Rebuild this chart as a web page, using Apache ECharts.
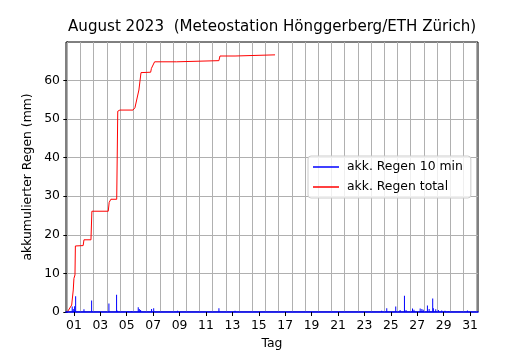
<!DOCTYPE html>
<html><head><meta charset="utf-8">
<script src="https://cdn.jsdelivr.net/npm/echarts@6/dist/echarts.min.js"></script>
<style>html,body{margin:0;padding:0;background:#fff}#c{width:530px;height:350px}</style>
</head><body><div id="c"></div><script>
// x unit: days since 1 Aug 2023 00:00
const xTickDays = [1,3,5,7,9,11,13,15,17,19,21,23,25,27,29,31];
const xTickLabels = ['01','03','05','07','09','11','13','15','17','19','21','23','25','27','29','31'];
const yTicks = [0,10,20,30,40,50,60];
const dayBoundaries = [0,1,2,3,4,5,6,7,8,9,10,11,12,13,14,15,16,17,18,19,20,21,22,23,24,25,26,27,28,29,30,31];

// 10-min rain (mm)
const rainT = [0.37,0.45,0.55,0.63,1.26,1.84,3.15,3.73,3.80,4.60,4.85,5.37,5.45,5.55,6.38,6.54,8.35,11.48,12.70,
  23.80,24.19,24.87,25.20,25.53,25.65,26.14,26.25,26.72,26.85,26.95,27.27,27.40,27.67,27.72,27.90,28.10,28.35,28.60,28.85,30.30];
const rainV = [1.4,0.8,1.5,4.1,0.7,3.0,2.2,4.5,0.3,0.2,0.2,1.2,0.8,0.5,0.8,1.0,0.3,1.0,0.3,
  0.3,1.0,1.4,0.5,4.2,0.5,0.9,0.6,0.9,0.8,0.6,1.7,0.8,3.5,1.0,0.7,0.5,0.4,0.3,0.2,0.4];

// accumulated total (mm)
const totalT = [0,0.12,0.33,0.45,0.50,0.58,0.61,1.20,1.26,1.79,1.86,3.10,3.17,3.30,3.74,3.82,3.98,4.97,5.12,5.27,5.42,5.58,6.31,6.37,6.48,6.61,8.28,8.34,11.48,11.56,12.70,12.77,15.73];
const totalV = [0,0,1.8,5.7,8.7,9.6,17.1,17.2,18.7,18.7,26.1,26.1,28.4,29.2,29.2,52.0,52.3,52.3,52.9,53.4,57.5,62.0,62.1,63.1,63.6,64.8,64.8,65.1,65.1,66.3,66.3,66.6,66.6];

const FONT = 'DejaVu Sans';
const FS = 12.4;
const chart = echarts.init(document.getElementById('c'), null, {renderer:'canvas'});
const tickPos = xTickDays.map(d => d - 0.5);
chart.setOption({
  animation: false,
  backgroundColor: '#fff',
  title: {
    text: 'August 2023  (Meteostation Hönggerberg/ETH Zürich)',
    left: 63, top: 15,
    textStyle: {fontFamily: FONT, fontSize: 15.1, fontWeight: 'normal', color: '#000'}
  },
  legend: {
    orient: 'vertical', left: 308, top: 156,
    itemWidth: 26, itemHeight: 1.5, itemGap: 8,
    padding: [5, 8, 5, 5],
    backgroundColor: 'rgba(255,255,255,0.8)', borderColor: '#cccccc', borderWidth: 1, borderRadius: 3,
    textStyle: {fontFamily: FONT, fontSize: FS, color: '#000', padding: [0,0,0,3]},
    data: [{name: 'akk. Regen 10 min', icon: 'rect'}, {name: 'akk. Regen total', icon: 'rect'}]
  },
  grid: {left: 66, right: 52, top: 42, bottom: 38, outerBoundsMode: 'none', containLabel: false,
    show: true, borderColor: '#000', borderWidth: 1, backgroundColor: 'transparent'},
  xAxis: {
    type: 'value', min: -0.1, max: 31.1, z: 5,
    name: 'Tag', nameLocation: 'middle', nameGap: 26,
    nameTextStyle: {fontFamily: FONT, fontSize: FS, color: '#000'},
    axisLine: {show: true, onZero: false, lineStyle: {color: '#0000ff', width: 1.6}},
    axisTick: {show: true, length: 4, customValues: tickPos, lineStyle: {color: '#000', width: 1}},
    axisLabel: {customValues: tickPos, margin: 8, fontFamily: FONT, fontSize: FS, color: '#000',
      formatter: v => xTickLabels[xTickDays.indexOf(Math.round(v + 0.5))]},
    splitLine: {show: false}
  },
  yAxis: {
    type: 'value', min: 0, max: 69.93,
    name: 'akkumulierter Regen (mm)', nameLocation: 'middle', nameGap: 32,
    nameTextStyle: {fontFamily: FONT, fontSize: FS, color: '#000'},
    axisLine: {show: true, lineStyle: {color: '#000', width: 1}},
    axisTick: {show: true, length: 4, customValues: yTicks, lineStyle: {color: '#000'}},
    axisLabel: {customValues: yTicks, margin: 6, fontFamily: FONT, fontSize: FS, color: '#000'},
    splitLine: {show: true, lineStyle: {color: '#b0b0b0', width: 1}}
  },
  series: [
    {
      name: 'akk. Regen 10 min', type: 'bar', barWidth: 1, z: 2,
      itemStyle: {color: '#0000ff'},
      data: rainT.map((t, i) => [t, rainV[i]]),
      markLine: {
        silent: true, symbol: ['none', 'none'], z: 1,
        label: {show: false}, emphasis: {disabled: true},
        lineStyle: {color: '#b0b0b0', width: 1, type: 'solid'},
        data: dayBoundaries.map(d => ({xAxis: d}))
      }
    },
    {
      name: 'akk. Regen total', type: 'line', z: 3, showSymbol: false,
      lineStyle: {color: '#ff0000', width: 1}, itemStyle: {color: '#ff0000'},
      data: totalT.map((t, i) => [t, totalV[i]])
    }
  ]
});
</script></body></html>
